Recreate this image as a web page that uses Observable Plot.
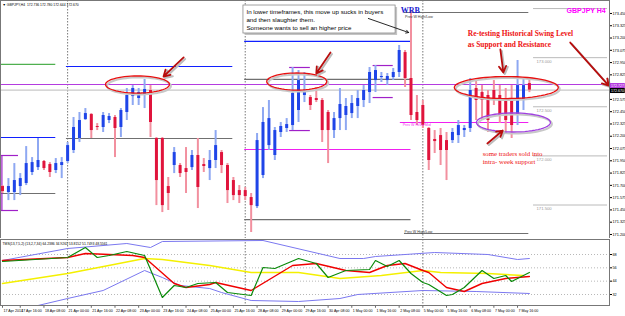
<!DOCTYPE html>
<html><head><meta charset="utf-8">
<script src="https://cdn.jsdelivr.net/npm/d3@7"></script>
<script src="https://cdn.jsdelivr.net/npm/@observablehq/plot@0.6"></script>
<style>
body{margin:0;background:#fff;}
#wrap{position:relative;width:625px;height:316px;overflow:hidden;background:#fff;}
#main{position:absolute;left:0;top:0;}
#ind{position:absolute;left:0;top:238px;}
svg{overflow:visible;}
</style></head><body><div id="wrap"><div id="main"></div><div id="ind"></div></div>
<script>
// ---- GBPJPY H4 bars (17 Apr 04:00 .. 7 May 20:00) ----
const opens=[171.688,171.627,171.627,171.688,171.719,171.831,171.881,171.943,171.912,171.851,
171.902,171.943,172.055,172.177,172.370,172.421,172.299,172.289,172.360,172.391,
172.289,172.442,172.604,172.584,172.615,172.666,172.177,172.177,171.688,171.902,
171.902,171.871,171.881,172.004,171.912,171.871,171.953,172.034,171.902,171.749,
171.647,171.647,171.576,171.484,171.800,172.105,172.004,172.238,172.279,172.309,
172.462,172.615,172.594,172.584,172.564,172.442,172.258,172.380,172.411,172.431,
172.503,172.564,172.645,172.767,172.798,172.767,172.798,172.849,173.052,172.788,
172.442,172.513,172.279,172.167,172.207,172.156,172.156,172.207,172.258,172.279,
172.686,172.645,172.615,172.666,172.615,172.564,172.564,172.411,172.564,172.736];
const highs=[171.698,171.769,171.922,171.820,172.095,171.983,172.177,171.953,171.932,171.973,
171.983,172.136,172.391,172.442,172.482,172.431,172.329,172.442,172.431,172.411,
172.482,172.686,172.716,172.686,172.778,172.716,172.187,172.187,171.780,172.085,
171.922,172.085,172.055,172.177,171.973,172.055,172.258,172.055,171.922,171.780,
171.698,171.678,171.617,172.228,172.492,172.564,172.289,172.340,172.380,172.900,
172.869,172.849,172.615,172.696,172.584,172.462,172.442,172.686,172.584,172.615,
172.666,172.716,172.900,172.920,172.849,172.839,172.890,173.124,173.073,173.480,
172.615,172.564,172.289,172.258,172.279,172.238,172.279,172.360,172.309,172.788,
172.767,172.716,172.666,172.767,172.716,172.686,172.716,172.971,172.788,172.780];
const lows=[171.617,171.545,171.545,171.596,171.698,171.800,171.851,171.851,171.780,171.820,
171.769,171.922,172.024,172.136,172.360,172.177,172.258,172.238,172.329,171.983,
172.187,172.360,172.513,172.513,172.482,172.187,171.494,171.423,171.444,171.820,
171.780,171.617,171.851,171.464,171.831,171.749,171.871,171.820,171.515,171.545,
171.515,171.545,171.220,171.464,171.769,172.055,171.953,172.187,172.238,172.258,
172.340,172.543,172.462,172.543,172.136,171.922,172.177,172.258,172.258,172.380,
172.380,172.492,172.533,172.645,172.747,172.716,172.767,172.798,172.696,172.360,
172.309,172.279,171.851,172.024,171.902,171.749,172.126,172.126,172.187,172.238,
172.360,172.360,172.238,172.513,172.329,172.228,172.177,172.309,172.462,172.644];
const closes=[171.637,171.688,171.749,171.769,171.922,171.932,171.953,171.871,171.831,171.922,
171.932,172.105,172.289,172.360,172.431,172.258,172.289,172.411,172.401,172.279,
172.462,172.615,172.686,172.645,172.676,172.340,171.749,171.494,171.617,172.034,
171.820,171.831,172.004,171.678,171.892,171.953,172.105,171.902,171.647,171.596,
171.596,171.586,171.494,172.156,172.340,172.380,172.258,172.299,172.319,172.635,
172.767,172.645,172.513,172.564,172.258,172.258,172.380,172.523,172.503,172.533,
172.584,172.666,172.849,172.869,172.808,172.808,172.849,173.073,172.788,172.411,
172.360,172.309,171.953,172.146,172.055,172.055,172.238,172.309,172.279,172.666,
172.564,172.564,172.360,172.564,172.411,172.360,172.309,172.716,172.716,172.670];

// week separators (Monday 00:00 bars)
const sepIdx=[11,41,71];
// time-axis labels
const timeIdx=[0,3,7,11,15,19,23,27,31,35,39,43,47,51,55,59,63,67,71,75,79,83,87];
const timeLabels=["17 Apr 2014","17 Apr 16:00","18 Apr 08:00","21 Apr 00:00","21 Apr 16:00","22 Apr 08:00",
"23 Apr 00:00","23 Apr 16:00","24 Apr 08:00","25 Apr 00:00","25 Apr 16:00","28 Apr 08:00","29 Apr 00:00",
"29 Apr 16:00","30 Apr 08:00","1 May 00:00","1 May 16:00","2 May 08:00","5 May 00:00","5 May 16:00",
"6 May 08:00","7 May 00:00","7 May 16:00"];
// price axis ticks (172.700 is hidden under the price boxes)
const priceTicks=[173.450,173.325,173.200,173.075,172.950,172.825,172.575,172.450,172.325,
172.200,172.075,171.950,171.825,171.700,171.575,171.450,171.325,171.200];

// horizontal levels (weekly / daily high-low etc.)
const levelFrom=[-0.3,-0.3,-0.3,-0.3,-0.3,10.8,10.8,40.9,40.9,40.9,40.9,48.5,48.5,62.6,62.6,67.9,67.2,67.9,-0.34,-0.34];
const levelTo=[9,9,9,2.7,2.7,38.9,38.9,69,69,69,69,52,52,66,66,88.9,88.9,88.9,102.53,102.53];
const levelPrice=[172.931,172.187,171.617,172.004,171.444,172.910,172.177,173.165,172.778,172.065,171.352,172.900,172.258,172.920,172.594,173.460,172.340,171.210,172.727,172.670];
const levelKind=["green","blue","grey","purple","purple","blue","grey","blue","grey","magenta","grey","purple","purple","purple","purple","grey","magenta","grey","swing","bid"];
// round-number levels
const roundLevels=[173.5,173.0,172.5,172.0,171.5];

// TDI indicator (bar index, value)
const upperIdx=[0,11,21,25,27,44,57,61,63,73,82,87,89];
const upperVal=[62.6,73.4,77.9,74.3,79.7,80.6,64.4,64.4,66.2,69.8,68,63.5,64.4];
const lowerIdx=[0,6,11,17,24,27,30,35,37,42,50,57,60,71,80,89];
const lowerVal=[22.1,22.1,28.4,35.6,53.6,47.3,40.1,37.4,33.8,26.6,25.7,28.4,32,35.6,34.7,32.9];
const baseIdx=[0,11,24,27,35,42,50,57,64,71,74,82,88];
const baseVal=[41.9,50.9,64.4,63.5,58.1,51.8,51.8,46.4,49.1,53.6,51.8,50.9,49.1];
const slowIdx=[0,11,14,22,24,29,31,35,36,42,49,53,58,62,65,68,71,72,75,78,81,85,89];
const slowVal=[62.6,65.3,68.9,67.1,65.3,41.9,38.3,41,42.8,35.6,58.1,59.9,53.6,51.8,58.1,59.9,53.6,51.8,38.3,34.7,41.9,46.4,48.2];
const fastIdx=[0,11,14,16,18,21,24,27,29,31,33,36,38,42,44,46,50,53,55,58,62,63,65,67,69,71,72,75,76,78,81,83,85,86,89];
const fastVal=[61.7,65.3,74.3,65.3,67.1,70.7,67.1,29.3,40.1,38.3,41.9,42.8,33.8,31.1,56.3,55.4,64.4,59.9,47.3,53.6,54.5,62.6,57.2,62.6,50.9,42.8,41,31.1,32,38.3,53.6,46.4,49.1,43.7,51.8];
const tdiLevels=[68,56,44,32];

// ---- build tables ----
const bars=opens.map((o,i)=>({i,open:o,high:highs[i],low:lows[i],close:closes[i]}));
const levels=levelPrice.map((p,k)=>({price:p,from:levelFrom[k],to:levelTo[k],kind:levelKind[k]}));
const levelColor={green:"#4fb04f",blue:"#1020ff",grey:"#707070",purple:"#a020c8",magenta:"#f020f0",swing:"#b43ce0",bid:"#c8c8c8"};
const pairs=(a,b)=>a.map((x,k)=>({x,y:b[k]}));
const xDomain=[-0.338,102.53];
const fmt3=d3.format(".3f");
const up=d=>d.close>=d.open;

function ellipsePts(cx,cy,rx,ry){return d3.range(0,361,6).map(a=>({x:cx+rx*Math.cos(a*Math.PI/180),y:cy+ry*Math.sin(a*Math.PI/180)}));}
const redEllipses=[ellipsePts(22.8,172.727,5.4,0.087),ellipsePts(49.7,172.757,5.07,0.087),ellipsePts(85.1,172.696,8.78,0.112)];
const purpleEllipse=ellipsePts(86.3,172.340,6.25,0.097);
const redArrows=[
 {x1:30.6,y1:173.002,x2:27.2,y2:172.808},
 {x1:55.4,y1:173.053,x2:53.0,y2:172.839},
 {x1:84.1,y1:173.083,x2:84.6,y2:172.849},
 {x1:95.9,y1:173.154,x2:102.4,y2:172.716},
 {x1:81.9,y1:172.126,x2:84.5,y2:172.258}];
const serif="Liberation Serif, Times New Roman, serif";
const sans="Liberation Sans, Arial, sans-serif";
const last=bars[bars.length-1];

const main=Plot.plot({
  width:625,height:238,marginTop:0,marginBottom:0,marginLeft:0,marginRight:16,
  style:{fontFamily:sans,fontSize:"3.8px",background:"white",color:"#000"},
  x:{domain:xDomain,axis:null},
  y:{domain:[171.159,173.582],axis:"right",ticks:priceTicks,tickFormat:fmt3,tickSize:2,tickPadding:1,label:null},
  marks:[
    Plot.ruleX(sepIdx,{x:d=>d,stroke:"#555",strokeDasharray:"1.5,1.5",strokeWidth:0.8}),
    Plot.ruleY(levels,{y:"price",x1:"from",x2:"to",stroke:d=>levelColor[d.kind],strokeWidth:1.2}),
    Plot.ruleX([0],{x:()=>-0.1,y1:()=>171.444,y2:()=>172.004,stroke:levelColor.purple,strokeWidth:1.2}),
    Plot.ruleY(roundLevels,{y:d=>d,x1:()=>89.7,x2:()=>102.2,stroke:"#a8a8a8",strokeWidth:0.8,strokeDasharray:d=>d===173.0?null:"3,2"}),
    Plot.text(roundLevels.slice(1),{x:()=>90.2,y:d=>d,text:d=>fmt3(d),dy:3.5,textAnchor:"start",fontSize:4.2,fill:"#9a9a9a"}),
    Plot.ruleX(bars,{x:"i",y1:"low",y2:"high",stroke:d=>up(d)?"#8ea8f2":"#f2909f",strokeWidth:2}),
    Plot.ruleX(bars,{x:"i",y1:"open",y2:"close",stroke:d=>up(d)?"#1f45e8":"#e0143c",strokeWidth:3}),
    // annotation ellipses
    ...redEllipses.map(e=>Plot.line(e,{x:"x",y:"y",stroke:"#c8c8c8",strokeWidth:2,dx:1.5,dy:1.5})),
    ...redEllipses.map(e=>Plot.line(e,{x:"x",y:"y",stroke:"#e81010",strokeWidth:1.3})),
    Plot.line(purpleEllipse,{x:"x",y:"y",stroke:"#c8c8c8",strokeWidth:2,dx:1.5,dy:1.5}),
    Plot.line(purpleEllipse,{x:"x",y:"y",stroke:"#a040e0",strokeWidth:1.3}),
    // arrows
    Plot.arrow(redArrows,{x1:"x1",y1:"y1",x2:"x2",y2:"y2",stroke:"#bdbdbd",strokeWidth:2,headLength:6,dx:1.5,dy:1.5}),
    Plot.arrow(redArrows,{x1:"x1",y1:"y1",x2:"x2",y2:"y2",stroke:"#b80d0d",strokeWidth:1.8,headLength:6}),
    // note box
    Plot.rect([0],{x1:()=>40.7,x2:()=>66.4,y1:()=>173.531,y2:()=>173.246,fill:"#c4c4c4",dx:2,dy:2}),
    Plot.rect([0],{x1:()=>40.7,x2:()=>66.4,y1:()=>173.531,y2:()=>173.246,fill:"white",stroke:"#8a8a8a",strokeWidth:0.8}),
    Plot.text(["In lower timeframes, this move up sucks in buyers\nand then slaughter them.\nSomeone wants to sell an higher price"],
      {x:()=>41.2,y:()=>173.505,text:d=>d,textAnchor:"start",lineAnchor:"top",fontSize:6.2,lineHeight:1.29,fill:"#000",fontFamily:sans}),
    Plot.arrow([0],{x1:()=>61.8,y1:()=>173.399,x2:()=>68.6,y2:()=>173.256,stroke:"#111",strokeWidth:0.9,headLength:5}),
    Plot.text(["WRB"],{x:()=>68.9,y:()=>173.485,text:d=>d,fontSize:8,fontWeight:"bold",fontFamily:serif,fill:"#1a1ad0"}),
    Plot.text(["Prev W High/Low"],{x:()=>68.0,y:()=>173.42,text:d=>d,textAnchor:"start",fontSize:3.6,fill:"#333"}),
    Plot.text(["Prev W Hi/Lo Mid"],{x:()=>67.6,y:()=>172.32,text:d=>d,textAnchor:"start",fontSize:3.6,fill:"#f030f0"}),
    Plot.text(["Prev W High/Low"],{x:()=>67.9,y:()=>171.23,text:d=>d,textAnchor:"start",fontSize:3.6,fill:"#333"}),
    Plot.text(["GBPJPY H4"],{x:()=>101.9,y:()=>173.48,text:d=>d,textAnchor:"end",fontSize:7,fontWeight:"bold",fill:"#ff00ff"}),
    Plot.text(["Re-testing Historical Swing Level\nas Support and Resistance"],
      {x:()=>78.6,y:()=>173.30,text:d=>d,textAnchor:"start",lineAnchor:"top",fontSize:7.4,lineHeight:1.5,fontWeight:"bold",fontFamily:serif,fill:"#ee1111"}),
    Plot.text(["some traders sold into\nintra- week support"],
      {x:()=>81.1,y:()=>172.06,text:d=>d,textAnchor:"start",lineAnchor:"top",fontSize:6.8,lineHeight:1.2,fontFamily:serif,fill:"#ee1111"}),
    // header
    Plot.text([`\u25BC GBPJPY,H4  ${fmt3(last.open)} ${fmt3(last.high)} ${fmt3(last.low)} ${fmt3(last.close)}`],
      {frameAnchor:"top-left",dx:2,dy:3.5,text:d=>d,textAnchor:"start",fontSize:3.4,fill:"#000"}),
    // right-axis price boxes
    Plot.rect([0],{x1:()=>102.6,x2:()=>105.2,y1:()=>172.737,y2:()=>172.686,fill:"#b43ce0"}),
    Plot.text([172.727],{x:()=>103.9,y:d=>d-0.015,text:d=>fmt3(d),fontSize:3.6,fill:"white"}),
    Plot.rect([0],{x1:()=>102.6,x2:()=>105.2,y1:()=>172.686,y2:()=>172.635,fill:"#000"}),
    Plot.text([last.close],{x:()=>103.9,y:d=>d-0.01,text:d=>fmt3(d),fontSize:3.6,fill:"white"}),
    Plot.frame({stroke:"#777",strokeWidth:1})
  ]
});
document.getElementById("main").appendChild(main);

const ind=Plot.plot({
  width:625,height:78,marginTop:1,marginBottom:11,marginLeft:0,marginRight:16,
  style:{fontFamily:sans,fontSize:"3.8px",background:"white",color:"#000"},
  x:{domain:xDomain,axis:null},
  y:{domain:[22.1,81.5],axis:"right",ticks:tdiLevels,tickSize:2,tickPadding:1,label:null},
  marks:[
    Plot.ruleY(tdiLevels,{y:d=>d,stroke:"#9a9a9a",strokeDasharray:"1,2",strokeWidth:0.7}),
    Plot.ruleX(sepIdx,{x:d=>d,stroke:"#555",strokeDasharray:"1.5,1.5",strokeWidth:0.8}),
    Plot.line(pairs(upperIdx,upperVal),{x:"x",y:"y",stroke:"#7b78f0",strokeWidth:1}),
    Plot.line(pairs(lowerIdx,lowerVal),{x:"x",y:"y",stroke:"#7b78f0",strokeWidth:1}),
    Plot.line(pairs(baseIdx,baseVal),{x:"x",y:"y",stroke:"#f4f000",strokeWidth:1.5}),
    Plot.line(pairs(slowIdx,slowVal),{x:"x",y:"y",stroke:"#f00000",strokeWidth:1.4}),
    Plot.line(pairs(fastIdx,fastVal),{x:"x",y:"y",stroke:"#0a8a0a",strokeWidth:1.2}),
    Plot.text(["TMS(13,7,5,2) (13,2,7,34) 64.2386 34.9261 53.8152 51.7493 48.5561"],
      {frameAnchor:"top-left",dx:2,dy:3.5,text:d=>d,textAnchor:"start",fontSize:3.4,fill:"#000"}),
    Plot.ruleX(timeIdx,{x:d=>d,y1:()=>22.1,y2:()=>19.6,stroke:"#000",strokeWidth:0.6}),
    Plot.text(timeIdx,{x:d=>d,text:(d,k)=>timeLabels[k],frameAnchor:"bottom",dy:6,dx:1,textAnchor:"start",fontSize:3.6,fill:"#000"}),
    Plot.frame({stroke:"#777",strokeWidth:1})
  ]
});
document.getElementById("ind").appendChild(ind);
</script></body></html>
